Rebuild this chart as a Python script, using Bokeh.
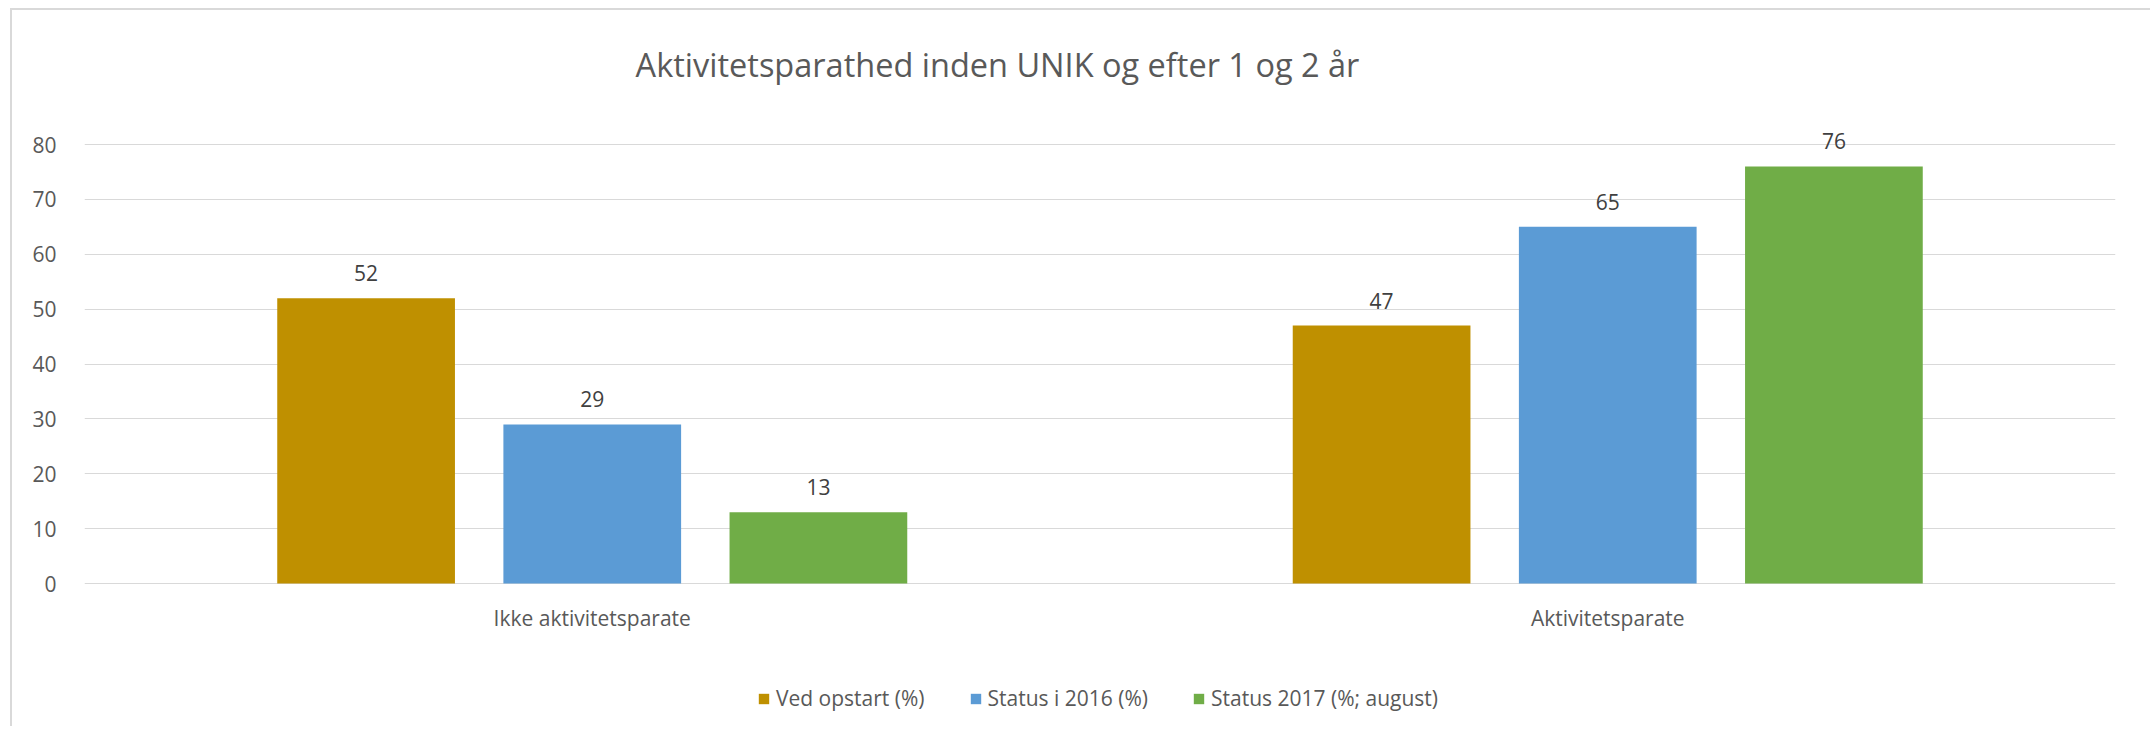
from bokeh.plotting import figure
from bokeh.models import ColumnDataSource, FactorRange, FixedTicker, Legend, LegendItem, Range1d, Label
from bokeh.transform import dodge
from bokeh.core.properties import value
from bokeh.embed import file_html
from bokeh.resources import INLINE

categories = ["Ikke aktivitetsparate", "Aktivitetsparate"]
series_names = ["Ved opstart (%)", "Status i 2016 (%)", "Status 2017 (%; august)"]
ved_opstart = [52, 47]
status_2016 = [29, 65]
status_2017 = [13, 76]
y_ticks = [0, 10, 20, 30, 40, 50, 60, 70, 80]
title_text = "Aktivitetsparathed inden UNIK og efter 1 og 2 år"

colors = ["#BF9000", "#5B9BD5", "#70AD47"]
FONT = "Open Sans"

src = ColumnDataSource(data=dict(
    cat=categories,
    s0=ved_opstart, s1=status_2016, s2=status_2017,
    t0=[str(v) for v in ved_opstart],
    t1=[str(v) for v in status_2016],
    t2=[str(v) for v in status_2017],
))

# the frame spans the whole chart height; the value axis occupies 0..80 inside it,
# the space above holds the title and the space below the categories and legend
p = figure(width=2140, height=718, title=None,
           x_range=FactorRange(factors=categories, range_padding=0),
           y_range=Range1d(-26.42, 104.42), output_backend="svg", toolbar_location=None,
           min_border_left=72, min_border_right=37, min_border_top=0, min_border_bottom=0)

p.styles = {"margin-left": "10px", "margin-top": "8px",
            "border-left": "2px solid #d9d9d9", "border-top": "2px solid #d9d9d9"}

p.outline_line_color = None
p.background_fill_color = "white"
p.border_fill_color = "white"

p.add_layout(Label(x=913, y=664, x_units="screen", y_units="screen", text=title_text,
                   text_align="center", text_baseline="middle", text_font=FONT,
                   text_font_size="32.5px", text_color="#595959"))

offsets = [-0.2227, 0.0, 0.2227]
renderers = []
for i, (off, c) in enumerate(zip(offsets, colors)):
    r = p.vbar(x=dodge("cat", off, range=p.x_range), top=f"s{i}", width=0.175, source=src,
               fill_color=c, line_color=None)
    renderers.append(r)
    p.text(x=dodge("cat", off, range=p.x_range), y=f"s{i}", text=f"t{i}", source=src,
           text_align="center", text_baseline="middle", y_offset=-25,
           text_font_size="21px", text_color="#404040", text_font=value(FONT))

# category labels under the baseline
p.text(x="cat", y=0, text="cat", source=src, text_align="center", text_baseline="middle",
       y_offset=34, text_font_size="21px", text_color="#595959", text_font=value(FONT))

p.ygrid.ticker = FixedTicker(ticks=y_ticks)
p.ygrid.grid_line_color = "#d9d9d9"
p.ygrid.grid_line_width = 1
p.xgrid.grid_line_color = None

p.yaxis.ticker = FixedTicker(ticks=y_ticks)
p.yaxis.axis_line_color = None
p.yaxis.major_tick_line_color = None
p.yaxis.minor_tick_line_color = None
p.yaxis.major_label_text_font = FONT
p.yaxis.major_label_text_font_size = "21px"
p.yaxis.major_label_text_color = "#595959"
p.yaxis.major_label_standoff = 22

p.xaxis.visible = False

legend = Legend(items=[LegendItem(label=n, renderers=[r]) for n, r in zip(series_names, renderers)],
                orientation="horizontal", location=(673, 16),
                glyph_width=13, glyph_height=13, label_standoff=6, spacing=44,
                padding=0, margin=0, border_line_color=None, background_fill_alpha=0,
                label_text_font=FONT, label_text_font_size="21px", label_text_color="#595959")
p.add_layout(legend, "center")

open("out.html", "w").write(file_html(p, INLINE))
